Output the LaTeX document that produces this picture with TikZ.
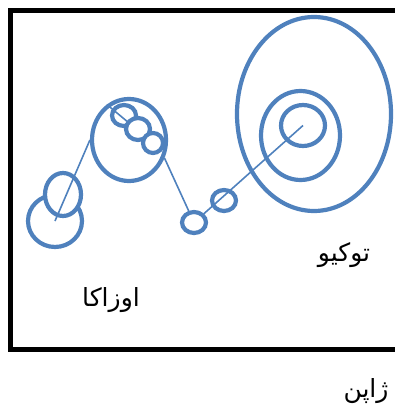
\documentclass[tikz,border=0pt]{standalone}
\usepackage{fontspec}
\newfontfamily\arabicfont[Script=Arabic]{DejaVu Sans}
\TeXXeTstate=1
\usetikzlibrary{shapes.geometric}
\definecolor{ringblue}{HTML}{4F81BD}

\begin{document}
\begin{tikzpicture}[
  x=1pt, y=-1pt,
  ring/.style={ellipse, draw=ringblue, line width=4.2pt, inner sep=0pt},
  solid ring/.style={ring, fill=white},
  link/.style={draw=ringblue, line width=1.6pt},
  city/.style={font=\arabicfont\fontsize{25}{28}\selectfont, inner sep=0pt},
  frame/.style={draw=black, line width=5pt}
]
\clip (0,0) rectangle (395,404);
\draw[frame] (10.5,10.5) rectangle (420,349);

% tokyo
\node[ring, minimum width=154pt, minimum height=194pt] (tbig) at (314,114) {};
\node[ring, minimum width=79pt,  minimum height=89pt]  (tmid) at (300.5,135.5) {};
\node[ring, minimum width=44pt,  minimum height=41pt]  (tin)  at (303,125.5) {};

% small rings between the two cities
\node[ring, minimum width=24pt, minimum height=21pt] (s2) at (224,200.5) {};
\node[ring, minimum width=24pt, minimum height=21pt] (s1) at (194,222.5) {};

% osaka
\node[ring, minimum width=74pt, minimum height=82pt] (osaka) at (129,140) {};
\node[ring, minimum width=24pt, minimum height=21pt] (o1) at (124,115.5) {};
\coordinate (o3c) at (153,143);
\draw[link] (osaka.122) -- (o3c);
\node[solid ring, minimum width=24pt, minimum height=22pt] (o2) at (138,129) {};
\node[solid ring, minimum width=20pt, minimum height=20pt] (o3) at (o3c) {};

% left pair
\node[ring, minimum width=54pt, minimum height=52pt] (l1) at (55,221) {};
\node[solid ring, minimum width=36pt, minimum height=43pt] (l2) at (63,194.5) {};

\draw[link] (l1.center) -- (osaka.west);
\draw[link] (osaka.-27) -- (s1);
\draw[link] (tin.center) -- (s1);

% labels
\node[city] (tokyo) at (344,255) {\beginR توکیو\endR};
\node[city] (osakaname) at (111,300) {\beginR اوزاکا\endR};
\node[city] (japan) at (366,391) {\beginR ژاپن\endR};
\end{tikzpicture}
\end{document}
